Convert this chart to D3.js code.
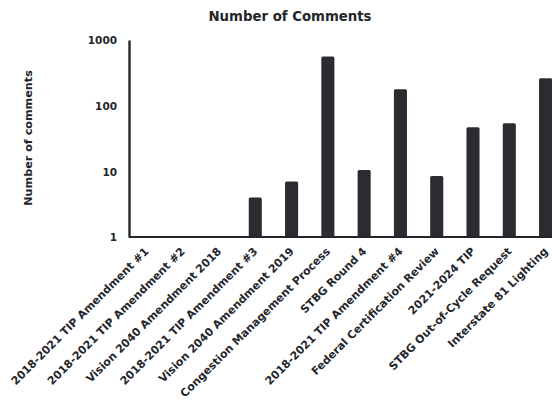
<!DOCTYPE html>
<html>
<head>
<meta charset="utf-8">
<script src="https://cdn.jsdelivr.net/npm/d3@7"></script>
<style>
  body { margin: 0; background: #fff; }
  text { font-family: "DejaVu Sans", sans-serif; font-weight: bold; fill: #24262b; }
</style>
</head>
<body>
<div id="chart"></div>
<script>
// data
const categories = [
  '2018-2021 TIP Amendment #1',
  '2018-2021 TIP Amendment #2',
  'Vision 2040 Amendment 2018',
  '2018-2021 TIP Amendment #3',
  'Vision 2040 Amendment 2019',
  'Congestion Management Process',
  'STBG Round 4',
  '2018-2021 TIP Amendment #4',
  'Federal Certification Review',
  '2021-2024 TIP',
  'STBG Out-of-Cycle Request',
  'Interstate 81 Lighting',
]
const comments = [0, 0, 0, 4, 7, 560, 10.5, 178, 8.5, 47, 54, 262]
const yTicks = [1, 10, 100, 1000]

const dataset = categories.map((c, i) => ({ name: c, value: comments[i] }))

// dimensions
const dimensions = {
  width: 552,
  height: 404,
  margins: { left: 129, right: -11, top: 40, bottom: 167 },
}
const ctrW = dimensions.width - dimensions.margins.left - dimensions.margins.right
const ctrH = dimensions.height - dimensions.margins.top - dimensions.margins.bottom

// scales
const xScale = d3.scaleBand().domain(categories).range([0, ctrW]).paddingInner(0.64).paddingOuter(0.3)
const yScale = d3.scaleLog().domain([1, 1000]).range([ctrH, 0])

const svg = d3.select('#chart').append('svg').attr('width', dimensions.width).attr('height', dimensions.height)

const ctr = svg.append('g').attr('transform', `translate(${dimensions.margins.left}, ${dimensions.margins.top})`)

// bars (zero values can't go on a log scale)
ctr
  .selectAll('rect')
  .data(dataset.filter((d) => d.value > 0))
  .join('rect')
  .attr('x', (d) => xScale(d.name))
  .attr('width', xScale.bandwidth())
  .attr('y', (d) => yScale(d.value))
  .attr('height', (d) => ctrH - yScale(d.value))
  .attr('rx', 1.5)
  .style('fill', '#2a2c32')

// y axis
const yAxis = d3.axisLeft(yScale).tickValues(yTicks).tickFormat(d3.format('d')).tickSize(0).tickPadding(12)
const yAxisGroup = ctr.append('g').call(yAxis)
yAxisGroup.select('.domain').attr('stroke', '#24262b').attr('stroke-width', 2.4)
yAxisGroup.selectAll('text').style('font-size', '10.5px').attr('dy', '0.35em')

// x axis
const lastRight = xScale(categories[categories.length - 1]) + xScale.bandwidth()
ctr
  .append('line')
  .attr('x1', 0)
  .attr('x2', lastRight)
  .attr('y1', ctrH)
  .attr('y2', ctrH)
  .attr('stroke', '#24262b')
  .attr('stroke-width', 2)

const xAxis = d3.axisBottom(xScale).tickSize(0).tickPadding(0)
const xAxisGroup = ctr.append('g').attr('transform', `translate(0, ${ctrH})`).call(xAxis)
xAxisGroup.select('.domain').remove()
xAxisGroup
  .selectAll('text')
  .style('font-size', '11px')
  .attr('text-anchor', 'end')
  .attr('dy', 0)
  .attr('transform', 'translate(3, 15) rotate(-45)')

// title
svg
  .append('text')
  .attr('x', 290)
  .attr('y', 21)
  .attr('text-anchor', 'middle')
  .style('font-size', '13.3px')
  .text('Number of Comments')

// y label
svg
  .append('text')
  .attr('transform', `translate(32, 138) rotate(-90)`)
  .attr('text-anchor', 'middle')
  .style('font-size', '11.2px')
  .text('Number of comments')
</script>
</body>
</html>
